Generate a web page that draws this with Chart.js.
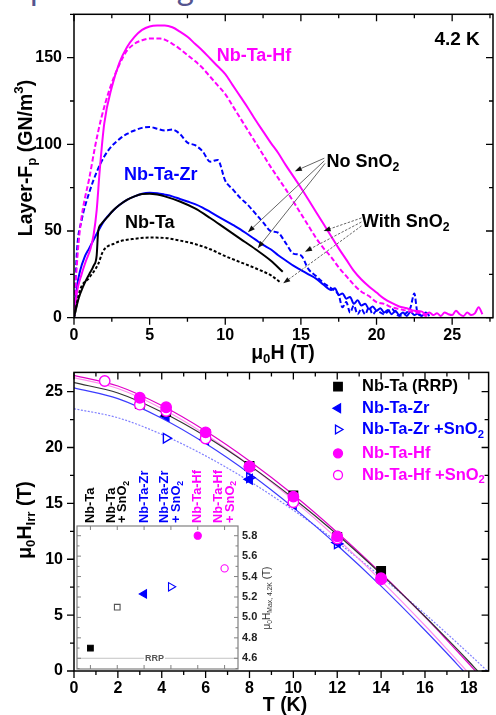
<!DOCTYPE html>
<html>
<head>
<meta charset="utf-8">
<script src="https://cdn.jsdelivr.net/npm/chart.js@4.4.1/dist/chart.umd.min.js"></script>
<style>
  html, body { margin: 0; padding: 0; background: #fff; }
  body { width: 496px; height: 715px; position: relative; overflow: hidden; }
  .slide-line { position: absolute; left: 30px; top: -29px; font: 33px Lato, sans-serif; line-height: 33px; color: #55558f; white-space: nowrap; }
  canvas { position: absolute; }
  #fpChart { left: 0; top: 0; }
  #irrChart { left: 0; top: 365px; }
  #insetChart { left: 60px; top: 470px; }
</style>
</head>
<body>
<div class="slide-line">pulsed magnet.</div>
<canvas id="fpChart" width="496" height="365"></canvas>
<canvas id="irrChart" width="496" height="350"></canvas>
<canvas id="insetChart" width="220" height="205"></canvas>
<script>
// ---- layer pinning force at 4.2 K: [field (T), Fp (GN/m3)] ----
const nbTa = [[0,0],[0.3,11],[0.6,18],[1,25],[1.3,30],[1.5,36],[1.6,50],[1.8,54],[2.2,58],[2.6,62],[3,65],[3.5,68],[4,70],[4.5,71.3],[5,71.5],[5.5,71],[6,70],[7,67],[8,63],[9,57.5],[10,51.5],[11,45.5],[12,39.5],[13,33],[13.8,26.5]];
const nbTaSn = [[0,0],[0.4,16],[1,23],[1.6,31],[1.9,38],[2.2,41],[2.6,42.5],[3,44],[4,45.5],[5,46.2],[6,46],[7,44.5],[8,42.5],[9,39.5],[10,35.5],[11,32],[12,28.5],[13,24.5],[13.7,20]];
const nbTaZr = [[0,0],[0.2,18],[0.4,27],[0.7,35],[1,40],[1.3,45],[1.6,50],[2,56],[2.5,61],[3,65],[3.5,68],[4,70],[4.5,71.5],[5,72],[5.5,71.8],[6,71],[6.5,70],[7,68.5],[7.5,67],[8,65.5],[8.5,63.5],[9,61],[9.5,58.5],[10,56],[10.5,53.5],[11,51],[11.5,48],[12,45],[12.5,42],[13,39.5],[13.5,36],[14,33],[14.5,30],[15,27.5],[15.5,25],[16,22.5],[16.5,19],[17,16],[17.25,17],[17.5,13],[17.75,14],[18,11],[18.25,12],[18.5,8],[18.75,10],[19,7],[19.25,8],[19.5,5],[19.75,6.5],[20,4],[20.25,5.5],[20.5,3],[20.75,4.5],[21,2],[21.25,4],[21.5,1.5],[21.75,3],[22,1],[22.25,3.5],[22.5,1.5],[22.75,2.5],[23,1],[23.25,3],[23.5,1]];
const nbTaZrSn = [[0,0],[0.2,39],[0.5,56],[1,72],[1.5,84],[2,93],[2.5,99],[3,103],[3.5,106],[4,108],[4.5,109.5],[5,110],[5.5,109],[6,108],[6.5,108.5],[7,106],[7.5,101],[8,99.5],[8.5,96],[9,90],[9.5,91],[10,79],[10.5,74],[11,69],[11.5,65],[12,60],[12.5,55],[13,50],[13.5,49],[14,43],[14.5,37],[15,36],[15.5,28],[16,24],[16.5,20],[17,17],[17.5,13],[17.75,6],[18,9],[18.25,3],[18.5,7],[18.75,2],[19,5],[19.25,2],[19.5,6],[19.75,2],[20,4],[20.5,2],[21,5],[21.5,1],[22,3],[22.25,6],[22.5,14],[22.7,3],[23,1]];
const nbTaHf = [[0,0],[0.2,15],[0.5,25],[0.8,33],[1.1,40],[1.3,48],[1.5,62],[1.7,85],[2,112],[2.5,133],[3,147],[3.5,156],[4,162],[4.5,166],[5,168],[5.5,168.5],[6,168.5],[6.5,167.5],[7,165],[7.5,162],[8,158],[8.5,154],[9,149.5],[9.5,145],[10,140.5],[10.5,134],[11,127.5],[11.5,121],[12,114],[12.5,107.5],[13,101],[13.5,95],[14,88],[14.5,81.5],[15,75],[15.5,68],[16,61],[16.5,54],[17,47],[17.5,40],[18,33.5],[18.5,27],[19,22],[19.5,18],[20,14.5],[20.5,11],[21,8.5],[21.5,6.5],[22,5.5],[22.5,4],[23,3.5],[23.25,2],[23.5,3],[23.75,1.5],[24,2.5],[24.25,1],[24.5,3],[24.75,2],[25,1.5],[25.25,4],[25.5,2],[25.75,1],[26,3],[26.25,1.5],[26.5,2.5],[26.75,6],[27,2]];
const nbTaHfSn = [[0,0],[0.15,25],[0.3,43],[0.5,58],[0.7,68],[1,80],[1.4,99],[1.8,115],[2.4,133],[3,146],[3.5,154],[4,158],[4.5,160],[5,161],[5.7,161],[6.5,158],[7,155],[7.5,151.5],[8,148],[8.5,144],[9,139],[9.5,134],[10,129],[10.5,122],[11,115],[11.5,108],[12,101],[12.5,94],[13,87],[13.5,80.5],[14,74],[14.5,67],[15,60],[15.5,53],[16,46],[16.5,40],[17,35],[17.5,29],[18,24],[18.5,19],[19,15],[19.5,12.5],[20,9],[20.5,8],[21,6],[21.5,5],[22,4],[22.5,3],[23,2.5],[23.25,1],[23.5,2]];

const fieldTicks = [0, 5, 10, 15, 20, 25];
const fpTicks = [0, 50, 100, 150];

// ---- irreversibility field: [T (K), mu0Hirr (T)] ----
const irrNbTa = [[3,23.9],[4.2,23.2],[6,21.2],[8,18.35],[10,15.7],[12,12.0],[14,8.95]];
const irrZr = [[4.2,22.8],[6,20.7],[8,17.15],[10,14.9],[12,11.5]];
const irrZrSn = [[4.2,20.83],[8,17.3],[12,11.38]];
const irrHf = [[3,24.45],[4.2,23.6],[6,21.36],[8,18.3],[10,15.6],[12,12.05],[14,8.3]];
const irrHfSn = [[1.4,25.95],[3,23.83],[4.2,23.26],[6,20.8],[8,18.28],[10,15.1],[12,11.85],[14,8.2]];

// fitted curves
const fitNbTa = [[0,25.8],[2,24.88],[4,23.18],[6,21.0],[8,18.4],[10,15.46],[12,12.21],[14,8.67],[16,4.88],[17,2.89],[18,0.85],[18.4,0]];
const fitHf = [[0,26.45],[2,25.5],[4,23.75],[6,21.48],[8,18.8],[10,15.77],[12,12.4],[14,8.75],[16,4.84],[17,2.77],[18,0.65],[18.3,0]];
const fitHfSn = [[0,26.26],[2,25.28],[4,23.49],[6,21.16],[8,18.41],[10,15.29],[12,11.85],[14,8.09],[16,4.07],[17,1.95],[17.9,0]];
const fitZr = [[0,25.33],[2,24.37],[4,22.62],[6,20.35],[8,17.67],[10,14.62],[12,11.25],[14,7.59],[16,3.65],[17,1.59],[17.75,0]];
const fitZrSn = [[0,23.47],[2,22.66],[4,21.17],[6,19.25],[8,16.98],[10,14.39],[12,11.54],[14,8.43],[16,5.1],[17,3.35],[18,1.55],[18.84,0]];

const tempTicks = [0, 2, 4, 6, 8, 10, 12, 14, 16, 18];
const hirrTicks = [0, 5, 10, 15, 20, 25];
const legendLabels = ["Nb-Ta (RRP)", "Nb-Ta-Zr", "Nb-Ta-Zr +SnO2", "Nb-Ta-Hf", "Nb-Ta-Hf +SnO2"];

// ---- inset: field of maximum Fp at 4.2 K ----
const insetLabels = [["Nb-Ta"], ["Nb-Ta", "+ SnO2"], ["Nb-Ta-Zr"], ["Nb-Ta-Zr", "+ SnO2"], ["Nb-Ta-Hf"], ["Nb-Ta-Hf", "+ SnO2"]];
const insetValues = [4.70, 5.10, 5.23, 5.30, 5.80, 5.48];
const insetTicks = [4.6, 4.8, 5.0, 5.2, 5.4, 5.6, 5.8];
const rrpLevel = 4.6;

const FONT = "'Liberation Sans', Arial, sans-serif";
const BLACK = "#000000";
const BLUE = "#0000ff";
const MAGENTA = "#ff00ff";

const xy = (pairs) => pairs.map(([x, y]) => ({ x, y }));

// "SnO2" -> subscript 2
function chem(str) {
  if (str.endsWith("SnO2")) return [[str.slice(0, -1)], ["2", "sub"]];
  return [[str]];
}

// text with sub/superscript runs, optionally rotated
function richText(ctx, parts, x, y, size, color, align, angle, weight) {
  const w = weight || "bold";
  ctx.save();
  ctx.translate(x, y);
  if (angle) ctx.rotate(angle);
  ctx.fillStyle = color;
  ctx.textBaseline = "middle";
  ctx.textAlign = "left";
  const fontFor = (p) => `${w} ${p[1] ? size * 0.68 : size}px ${FONT}`;
  let total = 0;
  parts.forEach((p) => { ctx.font = fontFor(p); total += ctx.measureText(p[0]).width; });
  let cx = align === "center" ? -total / 2 : align === "right" ? -total : 0;
  parts.forEach((p) => {
    ctx.font = fontFor(p);
    const dy = p[1] === "sub" ? size * 0.3 : p[1] === "sup" ? -size * 0.38 : 0;
    ctx.fillText(p[0], cx, dy);
    cx += ctx.measureText(p[0]).width;
  });
  ctx.restore();
}

function marker(ctx, style, x, y, r, rot, fill, stroke) {
  ctx.save();
  ctx.translate(x, y);
  ctx.rotate((rot || 0) * Math.PI / 180);
  ctx.beginPath();
  if (style === "circle") {
    ctx.arc(0, 0, r, 0, Math.PI * 2);
  } else if (style === "rect") {
    const s = r * Math.SQRT1_2;
    ctx.rect(-s, -s, 2 * s, 2 * s);
  } else {
    for (let k = 0; k < 3; k++) {
      const a = k * 2 * Math.PI / 3;
      const px = Math.sin(a) * r, py = -Math.cos(a) * r;
      k ? ctx.lineTo(px, py) : ctx.moveTo(px, py);
    }
    ctx.closePath();
  }
  ctx.fillStyle = fill;
  ctx.fill();
  ctx.lineWidth = 1.3;
  ctx.strokeStyle = stroke;
  ctx.stroke();
  ctx.restore();
}

function arrow(ctx, x0, y0, x1, y1, dashed) {
  const ang = Math.atan2(y1 - y0, x1 - x0);
  const head = 7, wing = 2.6;
  const bx = x1 - head * Math.cos(ang), by = y1 - head * Math.sin(ang);
  ctx.save();
  ctx.strokeStyle = "#666";
  ctx.lineWidth = 1;
  ctx.setLineDash(dashed ? [2.5, 1.5] : []);
  ctx.beginPath();
  ctx.moveTo(x0, y0);
  ctx.lineTo(bx, by);
  ctx.stroke();
  ctx.setLineDash([]);
  ctx.fillStyle = "#111";
  ctx.beginPath();
  ctx.moveTo(x1, y1);
  ctx.lineTo(bx + wing * Math.sin(ang), by - wing * Math.cos(ang));
  ctx.lineTo(bx - wing * Math.sin(ang), by + wing * Math.cos(ang));
  ctx.closePath();
  ctx.fill();
  ctx.restore();
}

function halfSteps(scale, step) {
  const out = [];
  const half = step / 2;
  for (let k = Math.ceil(scale.min / half - 1e-6); k * half <= scale.max + 1e-6; k++) {
    out.push([k * half, k % 2 === 0]);
  }
  return out;
}

// box frame, out-ticks left/bottom, in-ticks top/right, axis titles
const frameTicks = {
  id: "frameTicks",
  afterDatasetsDraw(chart, _args, opts) {
    const { ctx, chartArea: a } = chart;
    const sx = chart.scales.x, sy = chart.scales.y;
    ctx.save();
    ctx.strokeStyle = "#000";
    ctx.lineWidth = 1.5;
    ctx.strokeRect(a.left, a.top, a.right - a.left, a.bottom - a.top);
    ctx.lineWidth = 1.3;
    ctx.beginPath();
    halfSteps(sx, opts.xStep).forEach(([v, major]) => {
      const p = sx.getPixelForValue(v), len = major ? 7 : 4;
      ctx.moveTo(p, a.bottom); ctx.lineTo(p, a.bottom + len);
      ctx.moveTo(p, a.top); ctx.lineTo(p, a.top + len);
    });
    halfSteps(sy, opts.yStep).forEach(([v, major]) => {
      const p = sy.getPixelForValue(v), len = major ? 7 : 4;
      ctx.moveTo(a.left, p); ctx.lineTo(a.left - len, p);
      ctx.moveTo(a.right, p); ctx.lineTo(a.right - len, p);
    });
    ctx.stroke();
    ctx.restore();
    opts.titles.forEach((t) => richText(ctx, t.parts, t.x, t.y, t.size, "#000", "center", t.angle));
  },
};

// fixed axis box, no extra room for overhanging labels
function fixBox(size, horizontal) {
  return (s) => {
    if (horizontal) s.height = size; else s.width = size;
    s.paddingTop = 0;
    s.paddingBottom = 0;
    s.paddingLeft = 0;
    s.paddingRight = 0;
  };
}

function axis(min, max, tickValues, pad, fitFn) {
  return {
    type: "linear",
    min,
    max,
    grid: { display: false, drawTicks: false },
    border: { display: false },
    ticks: {
      padding: pad,
      color: "#000",
      autoSkip: false,
      maxRotation: 0,
      font: { family: FONT, size: 16, weight: "bold" },
    },
    afterBuildTicks: (s) => { s.ticks = tickValues.map((value) => ({ value })); },
    afterFit: fitFn,
  };
}

// ---------------- top panel ----------------
function curve(label, pairs, color, dash) {
  return {
    label,
    data: xy(pairs),
    borderColor: color,
    borderWidth: 2,
    borderDash: dash || [],
    pointRadius: 0,
    fill: false,
    cubicInterpolationMode: "monotone",
  };
}

const fpLabels = [
  { parts: [["4.2 K"]], at: [26.83, 160.2], size: 19, color: BLACK, align: "right" },
  { parts: [["Nb-Ta-Hf"]], at: [9.43, 151.1], size: 18, color: MAGENTA, align: "left" },
  { parts: [["Nb-Ta-Zr"]], at: [3.3, 82.3], size: 18, color: BLUE, align: "left" },
  { parts: [["Nb-Ta"]], at: [3.37, 54.6], size: 18, color: BLACK, align: "left" },
  { parts: chem("No SnO2"), at: [16.7, 89.8], size: 18, color: BLACK, align: "left" },
  { parts: chem("With SnO2"), at: [19.03, 55.2], size: 18, color: BLACK, align: "left" },
];
const fpArrows = [
  { from: [16.55, 92], to: [14.6, 84.5], dashed: false },
  { from: [16.55, 90.5], to: [11.5, 49.3], dashed: false },
  { from: [16.6, 89], to: [12.15, 40.1], dashed: false },
  { from: [19.0, 57.5], to: [16.5, 50.0], dashed: true },
  { from: [19.0, 55.2], to: [15.27, 38.1], dashed: true },
  { from: [19.0, 52.9], to: [13.83, 19.8], dashed: true },
];

const fpNotes = {
  id: "fpNotes",
  afterDatasetsDraw(chart) {
    const { ctx } = chart;
    const px = (h) => chart.scales.x.getPixelForValue(h);
    const py = (f) => chart.scales.y.getPixelForValue(f);
    fpArrows.forEach((a) => arrow(ctx, px(a.from[0]), py(a.from[1]), px(a.to[0]), py(a.to[1]), a.dashed));
    fpLabels.forEach((l) => richText(ctx, l.parts, px(l.at[0]), py(l.at[1]), l.size, l.color, l.align));
  },
};

new Chart(document.getElementById("fpChart"), {
  type: "line",
  data: {
    datasets: [
      curve("Nb-Ta", nbTa, BLACK),
      curve("Nb-Ta +SnO2", nbTaSn, BLACK, [3, 2]),
      curve("Nb-Ta-Hf", nbTaHf, MAGENTA),
      curve("Nb-Ta-Hf +SnO2", nbTaHfSn, MAGENTA, [5, 2.5]),
      curve("Nb-Ta-Zr", nbTaZr, BLUE),
      curve("Nb-Ta-Zr +SnO2", nbTaZrSn, BLUE, [5, 2.5]),
    ],
  },
  plugins: [frameTicks, fpNotes],
  options: {
    responsive: false,
    animation: false,
    layout: { padding: { left: 0, right: 3, top: 14.3, bottom: 0 } },
    plugins: {
      legend: { display: false },
      tooltip: { enabled: false },
      frameTicks: {
        xStep: 5,
        yStep: 50,
        titles: [
          { parts: [["Layer-F"], ["p", "sub"], [" (GN/m"], ["3", "sup"], [")"]], x: 27, y: 158, size: 19.5, angle: -Math.PI / 2 },
          { parts: [["\u03bc"], ["0", "sub"], ["H (T)"]], x: 283, y: 354, size: 19.5 },
        ],
      },
    },
    scales: {
      x: axis(0, 27.7, fieldTicks, 8, fixBox(365 - 317.7, true)),
      y: axis(0, 175, fpTicks, 12, fixBox(74, false)),
    },
  },
});

// ---------------- bottom panel ----------------
function pts(label, pairs, style, rot, r, color, filled) {
  return {
    label,
    data: xy(pairs),
    showLine: false,
    pointStyle: style,
    pointRotation: rot,
    pointRadius: r,
    pointBorderWidth: 1.4,
    borderColor: color,
    pointBorderColor: color,
    pointBackgroundColor: filled ? color : "#ffffff",
  };
}
function fit(label, pairs, color, dash) {
  return {
    label,
    data: xy(pairs),
    borderColor: color,
    borderWidth: 1.2,
    borderDash: dash || [],
    pointRadius: 0,
    cubicInterpolationMode: "monotone",
  };
}

const legendRows = [21.7, 43.3, 64.5, 88.3, 110];
const irrLegend = {
  id: "irrLegend",
  afterDatasetsDraw(chart) {
    const { ctx } = chart;
    legendLabels.forEach((name, i) => {
      const ds = chart.data.datasets.find((d) => d.label === name);
      const small = ds.pointStyle === "circle" ? 4.5 : ds.pointStyle === "rect" ? 6 : 5;
      marker(ctx, ds.pointStyle, 338, legendRows[i], small, ds.pointRotation, ds.pointBackgroundColor, ds.pointBorderColor);
      richText(ctx, chem(name), 362, legendRows[i], 16.5, ds.pointBorderColor, "left");
    });
  },
};

new Chart(document.getElementById("irrChart"), {
  type: "line",
  data: {
    datasets: [
      pts("Nb-Ta-Hf", irrHf, "circle", 0, 5.2, MAGENTA, true),
      pts("Nb-Ta-Hf +SnO2", irrHfSn, "circle", 0, 5.2, MAGENTA, false),
      pts("Nb-Ta (RRP)", irrNbTa, "rect", 0, 6, BLACK, true),
      pts("Nb-Ta-Zr", irrZr, "triangle", -90, 5.5, BLUE, true),
      pts("Nb-Ta-Zr +SnO2", irrZrSn, "triangle", 90, 5.5, BLUE, false),
      fit("fit Nb-Ta", fitNbTa, "#333333"),
      fit("fit Nb-Ta-Hf", fitHf, "#e000c8"),
      fit("fit Nb-Ta-Hf +SnO2", fitHfSn, "#ff8cf0"),
      fit("fit Nb-Ta-Zr", fitZr, "#3c3cff"),
      fit("fit Nb-Ta-Zr +SnO2", fitZrSn, "#8080ff", [2, 1.5]),
    ],
  },
  plugins: [frameTicks, irrLegend],
  options: {
    responsive: false,
    animation: false,
    layout: { padding: { left: 0, right: 2.7, top: 2.3, bottom: 0 } },
    plugins: {
      legend: { display: false },
      tooltip: { enabled: false },
      frameTicks: {
        xStep: 2,
        yStep: 5,
        titles: [
          { parts: [["\u03bc"], ["0", "sub"], ["H"], ["Irr", "sub"], [" (T)"]], x: 26, y: 155, size: 19.5, angle: -Math.PI / 2 },
          { parts: [["T (K)"]], x: 285, y: 341, size: 19.5 },
        ],
      },
    },
    scales: {
      x: axis(0, 18.9, tempTicks, 8, fixBox(350 - 306, true)),
      y: axis(0, 26.72, hirrTicks, 11, fixBox(74, false)),
    },
  },
});

// ---------------- inset ----------------
const insetColors = [BLACK, BLACK, BLUE, BLUE, MAGENTA, MAGENTA];

const insetDeco = {
  id: "insetDeco",
  beforeDatasetsDraw(chart) {
    const { ctx, chartArea: a, scales: { y } } = chart;
    ctx.save();
    ctx.fillStyle = "#fff";
    ctx.fillRect(a.left, a.top, a.right - a.left, a.bottom - a.top);
    const ry = y.getPixelForValue(rrpLevel);
    ctx.strokeStyle = "#c4c4c4";
    ctx.lineWidth = 1;
    ctx.beginPath();
    ctx.moveTo(a.left, ry);
    ctx.lineTo(a.right, ry);
    ctx.stroke();
    ctx.font = `bold 9px ${FONT}`;
    const cx = (a.left + a.right) / 2 - 3;
    const w = ctx.measureText("RRP").width;
    ctx.fillStyle = "#fff";
    ctx.fillRect(cx - w / 2 - 1, ry - 4, w + 2, 8);
    ctx.fillStyle = "#555";
    ctx.textAlign = "center";
    ctx.textBaseline = "middle";
    ctx.fillText("RRP", cx, ry + 0.5);
    ctx.restore();
  },
  afterDatasetsDraw(chart) {
    const { ctx, chartArea: a, scales: { x, y } } = chart;
    ctx.save();
    ctx.strokeStyle = "#808080";
    ctx.lineWidth = 1.2;
    ctx.strokeRect(a.left, a.top, a.right - a.left, a.bottom - a.top);
    ctx.lineWidth = 1;
    ctx.beginPath();
    halfSteps(y, 0.2).forEach(([v, major]) => {
      const p = y.getPixelForValue(v), len = major ? 4 : 2.5;
      ctx.moveTo(a.left, p); ctx.lineTo(a.left + len, p);
      ctx.moveTo(a.right, p); ctx.lineTo(a.right - len, p);
    });
    insetLabels.forEach((_, i) => {
      const p = x.getPixelForValue(i);
      ctx.moveTo(p, a.bottom); ctx.lineTo(p, a.bottom - 4);
      ctx.moveTo(p, a.top); ctx.lineTo(p, a.top + 4);
    });
    ctx.stroke();
    ctx.restore();
    insetLabels.forEach((lines, i) => {
      const p = x.getPixelForValue(i);
      if (lines.length === 1) {
        richText(ctx, chem(lines[0]), p, a.top - 3, 12.8, insetColors[i], "left", -Math.PI / 2);
      } else {
        richText(ctx, chem(lines[0]), p - 6, a.top - 3, 12.8, insetColors[i], "left", -Math.PI / 2);
        richText(ctx, chem(lines[1]), p + 5.5, a.top - 3, 12.8, insetColors[i], "left", -Math.PI / 2);
      }
    });
    richText(ctx, [["\u03bc"], ["0", "sub"], ["H"], ["Max, 4.2K", "sub"], [" (T)"]], a.right + 29, 128, 10, "#333", "center", -Math.PI / 2, "normal");
  },
};

new Chart(document.getElementById("insetChart"), {
  type: "line",
  data: {
    labels: insetLabels,
    datasets: [{
      label: "mu0H at max Fp",
      data: insetValues,
      showLine: false,
      pointStyle: ["rect", "rect", "triangle", "triangle", "circle", "circle"],
      pointRotation: [0, 0, -90, 90, 0, 0],
      pointRadius: [4, 4, 4.8, 4.8, 3.6, 3.6],
      pointBorderWidth: 1.1,
      pointBorderColor: ["#000", "#555", BLUE, BLUE, MAGENTA, MAGENTA],
      pointBackgroundColor: ["#000", "#fff", BLUE, "#fff", MAGENTA, "#fff"],
    }],
  },
  plugins: [insetDeco],
  options: {
    responsive: false,
    animation: false,
    layout: { padding: { left: 17, right: 0, top: 56, bottom: 6 } },
    plugins: { legend: { display: false }, tooltip: { enabled: false } },
    scales: {
      x: { type: "category", offset: true, display: false },
      y: {
        type: "linear",
        position: "right",
        min: 4.495,
        max: 5.895,
        grid: { display: false, drawTicks: false },
        border: { display: false },
        ticks: {
          padding: 4,
          color: "#222",
          font: { family: FONT, size: 11, weight: "bold" },
          callback: (v) => v.toFixed(1),
        },
        afterBuildTicks: (s) => { s.ticks = insetTicks.map((value) => ({ value })); },
        afterFit: fixBox(42, false),
      },
    },
  },
});
</script>
</body>
</html>
